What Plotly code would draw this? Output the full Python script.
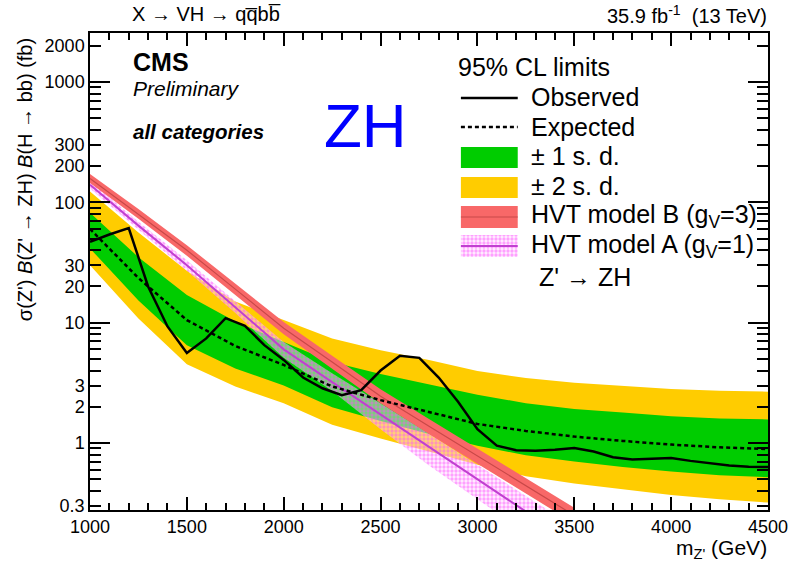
import plotly.graph_objects as go

# ---------------- data ----------------
mass_band = [1000, 1250, 1500, 1750, 2000, 2250, 2500, 2750, 3000, 3250, 3500, 3750, 4000, 4250, 4500]
exp_lim = [60, 23.5, 10.5, 6.4, 4.45, 2.95, 2.27, 1.81, 1.44, 1.26, 1.13, 1.04, 0.97, 0.92, 0.89]
yel_hi = [123, 56, 27, 15, 10.5, 7.4, 5.9, 4.9, 3.96, 3.47, 3.16, 2.96, 2.81, 2.71, 2.67]
grn_hi = [82, 35, 17, 10.2, 6.9, 4.7, 3.75, 3.08, 2.52, 2.14, 1.92, 1.79, 1.67, 1.60, 1.57]
grn_lo = [41.4, 15.3, 6.5, 4.16, 3.0, 1.98, 1.52, 1.19, 0.95, 0.79, 0.70, 0.63, 0.58, 0.54, 0.52]
yel_lo = [30, 10.8, 4.5, 2.94, 2.14, 1.42, 1.09, 0.85, 0.66, 0.53, 0.46, 0.41, 0.37, 0.34, 0.32]

mass_obs = [1000, 1100, 1200, 1300, 1400, 1500, 1600, 1700, 1800, 1900, 2000, 2100, 2200, 2300,
            2400, 2500, 2600, 2700, 2800, 2900, 3000, 3100, 3200, 3300, 3400, 3500, 3600, 3700,
            3800, 3900, 4000, 4100, 4200, 4300, 4400, 4500]
obs_lim = [47, 54, 61, 20, 9.3, 5.6, 7.4, 10.9, 9.4, 6.5, 4.9, 3.5, 2.85, 2.5,
           2.75, 4.0, 5.3, 5.1, 3.5, 2.2, 1.3, 0.95, 0.87, 0.86, 0.88, 0.91, 0.85, 0.76,
           0.73, 0.74, 0.75, 0.71, 0.68, 0.65, 0.635, 0.63]

mass_hvt = [1000, 1250, 1500, 1750, 2000, 2250, 2500, 2750, 3000, 3250, 3500]
hvtB = [158, 80, 40, 19, 9.0, 4.7, 2.45, 1.38, 0.78, 0.44, 0.25]
hvtB_hi = [172, 88, 44, 21, 10.1, 5.3, 2.8, 1.58, 0.90, 0.51, 0.29]
hvtB_lo = [145, 73, 36, 17, 8.0, 4.15, 2.14, 1.19, 0.67, 0.38, 0.215]
hvtA = [140, 64, 30, 13.5, 6.0, 3.2, 1.73, 0.93, 0.50, 0.27, 0.145]
hvtA_hi = [150, 69, 33, 15, 6.9, 3.8, 2.15, 1.2, 0.66, 0.36, 0.2]
hvtA_lo = [130, 59, 27, 12, 5.1, 2.7, 1.3, 0.65, 0.34, 0.18, 0.1]

y_tickvals = [0.3, 1, 2, 3, 10, 20, 30, 100, 200, 300, 1000, 2000]
y_ticktext = ["0.3", "1", "2", "3", "10", "20", "30", "100", "200", "300", "1000", "2000"]
y_minor = [0.4, 0.5, 0.6, 0.7, 0.8, 0.9, 4, 5, 6, 7, 8, 9, 40, 50, 60, 70, 80, 90,
           400, 500, 600, 700, 800, 900]
y_decades = [1, 10, 100, 1000]

# ---------------- layout helpers ----------------
W, H = 800, 567
L, R, T, B = 90, 30, 33, 57
PW, PH = W - L - R, H - T - B
FONT = "Liberation Sans, Arial, sans-serif"


def px(x):
    return (x - L) / PW


def py(y):
    return (H - B - y) / PH


def band(xs, hi, lo):
    return xs + xs[::-1], hi + lo[::-1]


YEL = "#ffcc00"
GRN = "#00cc00"
RED = "#f86868"
REDLINE = "#c84848"
MAG = "#c040d0"
HATCH = dict(shape=".", fgcolor="#ff50ff", bgcolor="rgba(255,225,255,0.45)", size=4, solidity=0.55)

fig = go.Figure()

bx, by = band(mass_band, yel_hi, yel_lo)
fig.add_trace(go.Scatter(x=bx, y=by, fill="toself", fillcolor=YEL, line=dict(width=0),
                         mode="lines", hoverinfo="skip", showlegend=False))
bx, by = band(mass_band, grn_hi, grn_lo)
fig.add_trace(go.Scatter(x=bx, y=by, fill="toself", fillcolor=GRN, line=dict(width=0),
                         mode="lines", hoverinfo="skip", showlegend=False))

# HVT model A hatched band + line
bx, by = band(mass_hvt, hvtA_hi, hvtA_lo)
fig.add_trace(go.Scatter(x=bx, y=by, fill="toself", fillcolor="rgba(255,150,255,0.3)",
                         fillpattern=HATCH, line=dict(width=0), mode="lines",
                         hoverinfo="skip", showlegend=False))
fig.add_trace(go.Scatter(x=mass_hvt, y=hvtA, mode="lines", line=dict(color=MAG, width=2),
                         hoverinfo="skip", showlegend=False))

# HVT model B band + line
bx, by = band(mass_hvt, hvtB_hi, hvtB_lo)
fig.add_trace(go.Scatter(x=bx, y=by, fill="toself", fillcolor=RED, line=dict(width=0),
                         mode="lines", hoverinfo="skip", showlegend=False))
fig.add_trace(go.Scatter(x=mass_hvt, y=hvtB, mode="lines", line=dict(color=REDLINE, width=1.2),
                         hoverinfo="skip", showlegend=False))

# expected and observed
fig.add_trace(go.Scatter(x=mass_band, y=exp_lim, mode="lines",
                         line=dict(color="black", width=2.5, dash="4px,3px"),
                         hoverinfo="skip", showlegend=False))
fig.add_trace(go.Scatter(x=mass_obs, y=obs_lim, mode="lines",
                         line=dict(color="black", width=2.5),
                         hoverinfo="skip", showlegend=False))

# invisible trace for decade-tick overlay axis
fig.add_trace(go.Scatter(x=[2000], y=[1], yaxis="y2", mode="markers",
                         marker=dict(opacity=0), hoverinfo="skip", showlegend=False))

# legend swatch for hatched model A (on hidden 0..1 overlay axes)
sx0, sx1 = px(462), px(519)
sy0, sy1 = py(257), py(235)
fig.add_trace(go.Scatter(x=[sx0, sx1, sx1, sx0, sx0], y=[sy0, sy0, sy1, sy1, sy0],
                         xaxis="x2", yaxis="y3", fill="toself", fillcolor="rgba(255,150,255,0.3)",
                         fillpattern=HATCH, line=dict(width=0), mode="lines",
                         hoverinfo="skip", showlegend=False))
fig.add_trace(go.Scatter(x=[sx0, sx1], y=[py(246), py(246)], xaxis="x2", yaxis="y3",
                         mode="lines", line=dict(color=MAG, width=2),
                         hoverinfo="skip", showlegend=False))

shapes = []
shapes.append(dict(type="line", xref="paper", yref="paper", x0=px(462), x1=px(519), y0=py(98), y1=py(98),
                   line=dict(color="black", width=2.5)))
shapes.append(dict(type="line", xref="paper", yref="paper", x0=px(462), x1=px(519), y0=py(127), y1=py(127),
                   line=dict(color="black", width=2.5, dash="4px,3px")))
shapes.append(dict(type="rect", xref="paper", yref="paper", x0=px(462), x1=px(519), y0=py(168), y1=py(147),
                   fillcolor=GRN, line=dict(width=0)))
shapes.append(dict(type="rect", xref="paper", yref="paper", x0=px(462), x1=px(519), y0=py(198), y1=py(177),
                   fillcolor=YEL, line=dict(width=0)))
shapes.append(dict(type="rect", xref="paper", yref="paper", x0=px(462), x1=px(519), y0=py(228), y1=py(206),
                   fillcolor=RED, line=dict(width=0)))
shapes.append(dict(type="line", xref="paper", yref="paper", x0=px(462), x1=px(519), y0=py(217), y1=py(217),
                   line=dict(color=REDLINE, width=1.2)))

ann = []
tc = "black"
ann.append(dict(text="X → VH → qq\u0305bb\u0305", x=px(130), y=py(14), xanchor="left", yanchor="middle",
                font=dict(size=20, color=tc, family=FONT)))
ann.append(dict(text="35.9 fb<sup>-1</sup>  (13 TeV)", x=px(771), y=py(14), xanchor="right", yanchor="middle",
                font=dict(size=20, color=tc, family=FONT)))
ann.append(dict(text="<b>CMS</b>", x=px(131), y=py(62), xanchor="left", yanchor="middle",
                font=dict(size=25, color=tc, family=FONT)))
ann.append(dict(text="<i>Preliminary</i>", x=px(131), y=py(88), xanchor="left", yanchor="middle",
                font=dict(size=21, color=tc, family=FONT)))
ann.append(dict(text="<b><i>all categories</i></b>", x=px(131), y=py(132), xanchor="left", yanchor="middle",
                font=dict(size=20.5, color=tc, family=FONT)))
ann.append(dict(text="ZH", x=px(366), y=py(126), xanchor="center", yanchor="middle",
                font=dict(size=62, color="#0000ff", family=FONT)))
ann.append(dict(text="95% CL limits", x=px(457), y=py(67), xanchor="left", yanchor="middle",
                font=dict(size=25, color=tc, family=FONT)))
leg_txt = [("Observed", 97), ("Expected", 127), ("± 1 s. d.", 156), ("± 2 s. d.", 186),
           ("HVT model B (g<sub>V</sub>=3)", 216), ("HVT model A (g<sub>V</sub>=1)", 246)]
for t, yy in leg_txt:
    ann.append(dict(text=t, x=px(530), y=py(yy), xanchor="left", yanchor="middle",
                    font=dict(size=25, color=tc, family=FONT)))
ann.append(dict(text="Z' → ZH", x=px(538), y=py(277), xanchor="left", yanchor="middle",
                font=dict(size=25, color=tc, family=FONT)))
ann.append(dict(text="σ(Z') <i>B</i>(Z' → ZH) <i>B</i>(H → bb) (fb)", x=px(25), y=py(180),
                textangle=-90, xanchor="center", yanchor="middle",
                font=dict(size=20, color=tc, family=FONT)))
ann.append(dict(text="m<sub>Z'</sub> (GeV)", x=px(771), y=py(549), xanchor="right", yanchor="middle",
                font=dict(size=21, color=tc, family=FONT)))
for a in ann:
    a.update(xref="paper", yref="paper", showarrow=False)

fig.update_layout(
    width=W, height=H,
    margin=dict(l=L, r=R, t=T, b=B, pad=0),
    paper_bgcolor="white", plot_bgcolor="white",
    showlegend=False,
    font=dict(family=FONT, color="black"),
    xaxis=dict(range=[1000, 4500], showgrid=False, zeroline=False, showline=True, linecolor="black",
               linewidth=1.5, mirror="ticks", ticks="inside", ticklen=13, tickwidth=1.5, tickcolor="black",
               tickmode="linear", tick0=1000, dtick=500, tickfont=dict(size=18, family=FONT, color="black"),
               minor=dict(ticks="inside", ticklen=7, tickwidth=1.5, tickcolor="black", dtick=100, showgrid=False)),
    yaxis=dict(type="log", range=[-0.557, 3.407], showgrid=False, zeroline=False, showline=True,
               linecolor="black", linewidth=1.5, mirror="ticks", ticks="inside", ticklen=11, tickwidth=1.5,
               tickcolor="black", tickmode="array", tickvals=y_tickvals, ticktext=y_ticktext,
               tickfont=dict(size=18, family=FONT, color="black"),
               minor=dict(ticks="inside", ticklen=11, tickwidth=1.5, tickcolor="black",
                          tickmode="array", tickvals=y_minor, showgrid=False)),
    yaxis2=dict(type="log", range=[-0.557, 3.407], overlaying="y", side="left", showgrid=False,
                zeroline=False, showline=False, ticks="inside", ticklen=20, tickwidth=1.5, tickcolor="black",
                mirror="ticks", tickmode="array", tickvals=y_decades, showticklabels=False),
    xaxis2=dict(range=[0, 1], overlaying="x", visible=False),
    yaxis3=dict(range=[0, 1], overlaying="y", visible=False),
    shapes=shapes,
    annotations=ann,
)

fig.write_html("out.html")
